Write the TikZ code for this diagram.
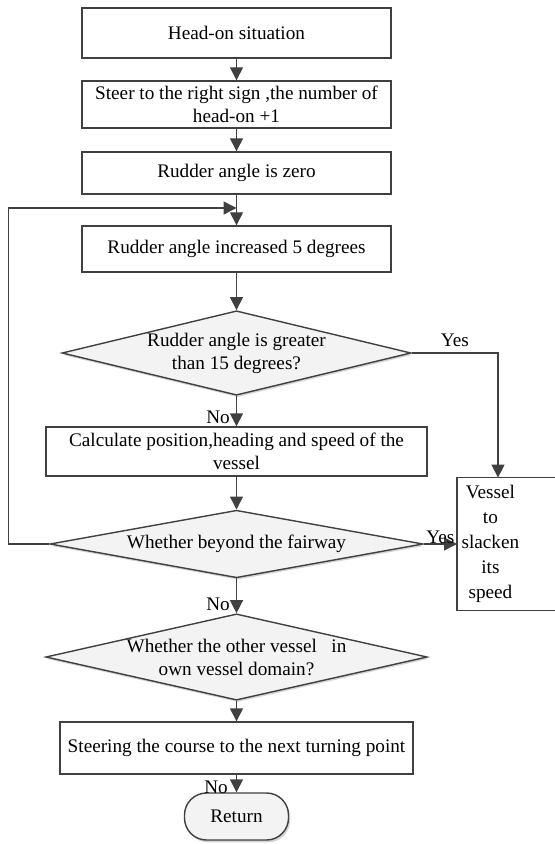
\documentclass[tikz,border=0pt]{standalone}
\usepackage{fontspec}
\setmainfont{Liberation Serif}
\usetikzlibrary{positioning,arrows.meta,shapes.geometric,shadows}
\usepackage{xcolor}
\definecolor{FlowGray}{RGB}{64,64,64}
\definecolor{FlowFill}{RGB}{243,243,243}
\definecolor{FlowShadow}{RGB}{170,170,170}

\begin{document}
\begin{tikzpicture}[
x=0.5pt,y=-0.5pt,
font=\fontsize{9.6}{11.5}\selectfont,
box/.style={rectangle,draw=FlowGray,line width=0.7pt,align=center,inner sep=1pt},
dec/.style={diamond,draw=FlowGray,line width=0.7pt,fill=FlowFill,align=center,inner sep=0pt,
drop shadow={shadow xshift=0.5pt,shadow yshift=-1pt,fill=FlowShadow}},
term/.style={rectangle,rounded corners=11pt,draw=FlowGray,line width=0.7pt,fill=FlowFill,
drop shadow={shadow xshift=0.8pt,shadow yshift=-1.2pt,fill=FlowShadow}},
arrow/.style={-{Triangle[length=6.5pt,width=6.5pt]},line width=0.7pt,draw=FlowGray},
line/.style={line width=0.7pt,draw=FlowGray},
lbl/.style={inner sep=0pt}
]
\useasboundingbox (0,0) rectangle (555,844);
\node[box,minimum width=154.5pt,minimum height=25pt] (start) at (236.5,33) {Head-on situation};
\node[box,minimum width=154.5pt,minimum height=23.5pt] (steer) at (236.5,104.5) {Steer to the right sign ,the number of\\head-on +1};
\node[box,minimum width=154.5pt,minimum height=21pt] (zero) at (236.5,173) {Rudder angle is zero};
\node[box,minimum width=154.5pt,minimum height=23pt] (incr) at (236.5,249) {Rudder angle increased 5 degrees};
\node[dec,aspect=4.06,minimum width=174.5pt] (d1) at (236.5,353) {Rudder angle is greater\\than 15 degrees?};
\node[box,minimum width=190.5pt,minimum height=24.5pt] (calc) at (236.5,451.5) {Calculate position,heading and speed of the\\vessel};
\node[dec,aspect=4.39,minimum width=186.5pt] (d2) at (236.5,544) {Whether beyond the fairway};
\node[dec,aspect=4.42,minimum width=190pt] (d3) at (236.5,657) {Whether the other vessel \ \ in\\own vessel domain?};
\node[box,minimum width=176.5pt,minimum height=26pt] (course) at (236.5,748) {Steering the course to the next turning point};
\node[term,minimum width=52pt,minimum height=23.5pt] (ret) at (236.5,816.5) {Return};
% side box, cut by the page edge
\node[anchor=west,text width=32pt,align=center,minimum height=66pt,inner xsep=0.5pt,
font=\fontsize{9.6}{12.5}\selectfont] (slack) at (457,544) {Vessel\\to\\slacken\\its\\speed};
\draw[line] (slack.north west) rectangle ([xshift=40pt]slack.south east);
\coordinate (turn) at (498,353);
\coordinate (loopin) at (236.5,208);

\draw[arrow] (start) -- (steer); \draw[arrow] (steer) -- (zero);
\draw[arrow] (zero) -- (incr); \draw[arrow] (incr) -- (d1);
\draw[arrow] (d1) -- node[lbl,pos=0.7,left=3pt] {No} (calc);
\draw[arrow] (d1.east) -- node[lbl,above=3pt] {Yes} (turn) -- (turn |- slack.north);
\draw[arrow] (calc) -- (d2);
\draw[arrow] (d2.east) -- node[lbl,above=0pt] {Yes} (slack.west);
\draw[arrow] (d2.west) -- ++(-41,0) |- (loopin);
\draw[arrow] (d2) -- node[lbl,pos=0.74,left=3pt] {No} (d3);
\draw[arrow] (d3) -- (course);
\draw[arrow] (course) -- node[lbl,pos=0.7,left=4pt] {No} (ret);
\end{tikzpicture}
\end{document}
